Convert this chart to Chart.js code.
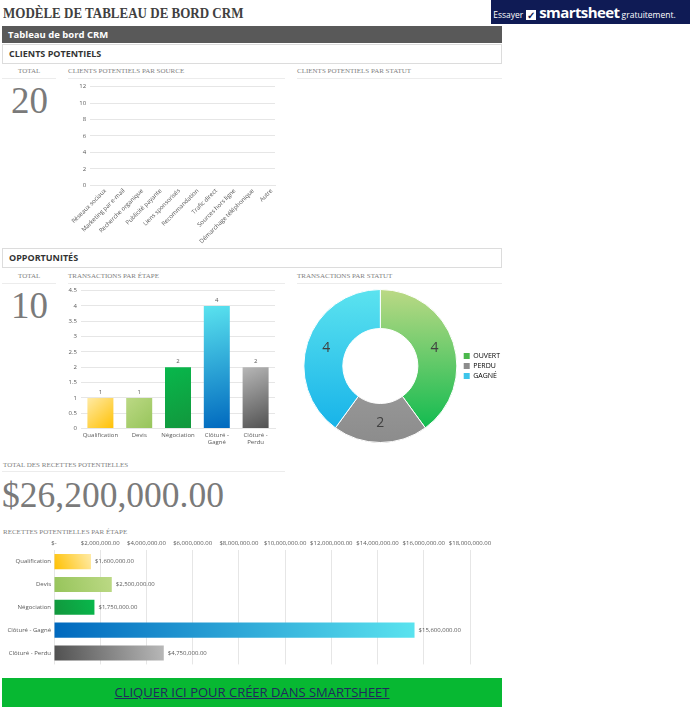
<!DOCTYPE html>
<html>
<head>
<meta charset="utf-8">
<script src="https://cdn.jsdelivr.net/npm/chart.js@4.4.0/dist/chart.umd.min.js"></script>
<style>
body { margin: 0; width: 693px; height: 709px; background: #fff; position: relative; overflow: hidden; font-family: "Open Sans", sans-serif; }
.abs { position: absolute; }
.title { left: 3px; top: 4px; font: bold 13px "Liberation Serif", serif; color: #404040; white-space: nowrap; transform: scaleY(1.15); transform-origin: left top; }
.banner { left: 491px; top: 0px; width: 199px; height: 24px; background: #0f1b55; color: #fff; white-space: nowrap; line-height: 24px; font-size: 8.5px; overflow: hidden; }
.banner b { font-size: 15px; font-weight: 700; letter-spacing: -0.6px; }
.chk { display: inline-block; width: 10px; height: 10px; background: #fff; color: #0f1b55; font-size: 10px; line-height: 10px; text-align: center; font-weight: bold; vertical-align: -1px; margin: 0 3px 0 3px; }
.darkbar { left: 2px; top: 26px; width: 500px; height: 17px; background: #595959; color: #fff; font-weight: 700; font-size: 9.5px; line-height: 17px; text-indent: 6px; }
.section { left: 2px; width: 498px; height: 18px; border: 1px solid #dcdcdc; color: #333; font-weight: 700; font-size: 9px; line-height: 18px; text-indent: 6px; }
.lbl { font: 7px "Liberation Serif", serif; color: #7f7f7f; white-space: nowrap; }
.rule { height: 1px; background: #ececec; }
.big { font-family: "Liberation Serif", serif; color: #7a7a7a; white-space: nowrap; }
.btn { left: 2px; top: 678px; width: 500px; height: 29px; background: #07b832; text-align: center; line-height: 29px; font-size: 13px; color: #1f2a5c; text-decoration: underline; }
canvas { position: absolute; }
</style>
</head>
<body>
<div class="abs title">MODÈLE DE TABLEAU DE BORD CRM</div>
<div class="abs banner">&nbsp;Essayer<span class="chk">✓</span><b>smartsheet</b> gratuitement.</div>
<div class="abs darkbar">Tableau de bord CRM</div>

<div class="abs section" style="top:44px">CLIENTS POTENTIELS</div>
<div class="abs lbl" style="left:18px;top:67px">TOTAL</div>
<div class="abs rule" style="left:2px;top:78px;width:54px"></div>
<div class="abs lbl" style="left:68px;top:67px">CLIENTS POTENTIELS PAR SOURCE</div>
<div class="abs rule" style="left:68px;top:78px;width:217px"></div>
<div class="abs lbl" style="left:297px;top:67px">CLIENTS POTENTIELS PAR STATUT</div>
<div class="abs rule" style="left:297px;top:78px;width:205px"></div>
<div class="abs big" id="leadsTotal" style="left:11px;top:79px;font-size:37px"></div>
<canvas id="sourceChart" style="left:64px;top:79px" width="216" height="168"></canvas>
<div class="abs rule" style="left:2px;top:248px;width:283px"></div>

<div class="abs section" style="top:248px">OPPORTUNITÉS</div>
<div class="abs lbl" style="left:18px;top:272px">TOTAL</div>
<div class="abs rule" style="left:2px;top:283px;width:54px"></div>
<div class="abs lbl" style="left:68px;top:272px">TRANSACTIONS PAR ÉTAPE</div>
<div class="abs rule" style="left:68px;top:283px;width:217px"></div>
<div class="abs lbl" style="left:297px;top:272px">TRANSACTIONS PAR STATUT</div>
<div class="abs rule" style="left:297px;top:283px;width:205px"></div>
<div class="abs big" id="dealsTotal" style="left:11px;top:284px;font-size:37px"></div>
<canvas id="stageChart" style="left:64px;top:283px" width="216" height="166"></canvas>
<canvas id="statusChart" style="left:300px;top:289px" width="210" height="154"></canvas>

<div class="abs lbl" style="left:3px;top:461px">TOTAL DES RECETTES POTENTIELLES</div>
<div class="abs rule" style="left:2px;top:471px;width:283px"></div>
<div class="abs big" id="revenueTotal" style="left:2px;top:474px;font-size:35.5px"></div>

<div class="abs lbl" style="left:3px;top:528px">RECETTES POTENTIELLES PAR ÉTAPE</div>
<canvas id="revenueChart" style="left:0px;top:537px" width="500" height="134"></canvas>

<div class="abs btn">CLIQUER ICI POUR CRÉER DANS SMARTSHEET</div>

<script>
// clients potentiels par source
const sourceLabels = ['Réseaux sociaux', 'Marketing par e-mail', 'Recherche organique', 'Publicité payante', 'Liens sponsorisés', 'Recommandation', 'Trafic direct', 'Sources hors ligne', 'Démarchage téléphonique', 'Autre'];
const sourceValues = [0, 0, 0, 0, 0, 0, 0, 0, 0, 0];
const sourceAxis = { max: 12, step: 2 };
const leadsTotal = 20;

// opportunités
const stageLabels = ['Qualification', 'Devis', 'Négociation', 'Clôturé - Gagné', 'Clôturé - Perdu'];
const stageCounts = [1, 1, 2, 4, 2];
const stageAxis = { max: 4.5, step: 0.5 };
const statusLabels = ['OUVERT', 'PERDU', 'GAGNÉ'];
const statusCounts = [4, 2, 4];

// recettes
const stageRevenue = [1600000, 2500000, 1750000, 15600000, 4750000];
const revenueAxis = { max: 18000000, step: 2000000 };

// couleurs des dégradés (clair -> foncé)
const stageColors = [
    ['#ffeba8', '#ffc000'],
    ['#bcd985', '#96c45a'],
    ['#08b84c', '#12963c'],
    ['#5ae3ef', '#0068be'],
    ['#b8b8b8', '#505050']
];
const statusColors = [
    ['#bcd985', '#00b84a'],
    ['#adadad', '#8c8c8c'],
    ['#5ce3ef', '#10aee8']
];
const statusLegendColors = ['#4bb84c', '#8c8c8c', '#3ec5ea'];

const money = v => '$' + v.toLocaleString('en-US', { minimumFractionDigits: 2, maximumFractionDigits: 2 });

document.getElementById('leadsTotal').textContent = leadsTotal;
document.getElementById('dealsTotal').textContent = stageCounts.reduce((a, b) => a + b, 0);
document.getElementById('revenueTotal').textContent = money(stageRevenue.reduce((a, b) => a + b, 0));

Chart.defaults.font.family = '"Open Sans", sans-serif';
Chart.defaults.color = '#595959';
Chart.defaults.animation = false;

// dessine les valeurs sur les barres / secteurs
const valueLabels = {
    id: 'valueLabels',
    afterDatasetsDraw(chart, args, opts) {
        if (!opts.mode) return;
        const ctx = chart.ctx;
        const data = chart.data.datasets[0].data;
        ctx.save();
        ctx.fillStyle = opts.color || '#595959';
        ctx.font = (opts.size || 6) + 'px "Open Sans"';
        chart.getDatasetMeta(0).data.forEach((el, i) => {
            const txt = opts.money ? money(data[i]) : String(data[i]);
            if (opts.mode === 'top') {
                ctx.textAlign = 'center'; ctx.textBaseline = 'bottom';
                ctx.fillText(txt, el.x, el.y - 3);
            } else if (opts.mode === 'right') {
                ctx.textAlign = 'left'; ctx.textBaseline = 'middle';
                ctx.fillText(txt, el.x + 4, el.y);
            } else {
                const p = el.tooltipPosition();
                ctx.textAlign = 'center'; ctx.textBaseline = 'middle';
                ctx.fillText(txt, p.x, p.y);
            }
        });
        ctx.restore();
    }
};

function vBarFill(c) {
    const chart = c.chart;
    const cols = stageColors[c.dataIndex % stageColors.length];
    if (!chart.chartArea || c.type !== 'data') return cols[1];
    const x = chart.scales.x.getPixelForValue(c.dataIndex);
    const top = chart.scales.y.getPixelForValue(c.raw);
    const bottom = chart.scales.y.getPixelForValue(0);
    const g = chart.ctx.createLinearGradient(x - 14, top, x + 14, bottom);
    g.addColorStop(0, cols[0]);
    g.addColorStop(1, cols[1]);
    return g;
}

function hBarFill(c) {
    const chart = c.chart;
    const cols = stageColors[c.dataIndex % stageColors.length];
    if (!chart.chartArea || c.type !== 'data') return cols[1];
    const y = chart.scales.y.getPixelForValue(c.dataIndex);
    const left = chart.scales.x.getPixelForValue(0);
    const right = chart.scales.x.getPixelForValue(c.raw);
    const g = chart.ctx.createLinearGradient(left, y + 8, right, y - 8);
    g.addColorStop(0, cols[1]);
    g.addColorStop(1, cols[0]);
    return g;
}

function ringFill(c) {
    const chart = c.chart;
    const cols = statusColors[c.dataIndex % statusColors.length];
    const a = chart.chartArea;
    if (!a) return cols[1];
    const g = chart.ctx.createLinearGradient(0, a.top, 0, a.bottom);
    g.addColorStop(0, cols[0]);
    g.addColorStop(1, cols[1]);
    return g;
}

const gridColor = '#e6e6e6';
const tickFont = { size: 6 };

// clients potentiels par source (vide)
new Chart(document.getElementById('sourceChart'), {
    type: 'bar',
    data: { labels: sourceLabels, datasets: [{ data: sourceValues, backgroundColor: '#5b9bd5', borderWidth: 0 }] },
    options: {
        responsive: false,
        layout: { padding: { right: 5 } },
        plugins: { legend: { display: false }, tooltip: { enabled: false } },
        scales: {
            x: { grid: { display: false, drawTicks: false }, border: { color: gridColor },
                 ticks: { font: tickFont, minRotation: 45, maxRotation: 45, autoSkip: false, padding: 2, labelOffset: 6 } },
            y: { min: 0, max: sourceAxis.max, grid: { color: gridColor, drawTicks: false }, border: { display: false },
                 ticks: { font: tickFont, stepSize: sourceAxis.step, padding: 4 },
                 afterFit: s => { s.width = 16; } }
        }
    }
});

// transactions par étape
new Chart(document.getElementById('stageChart'), {
    type: 'bar',
    data: { labels: stageLabels, datasets: [{ data: stageCounts, backgroundColor: vBarFill, borderWidth: 0, barPercentage: 0.67, categoryPercentage: 1 }] },
    options: {
        responsive: false,
        layout: { padding: { right: 5, top: 2 } },
        plugins: { legend: { display: false }, tooltip: { enabled: false }, valueLabels: { mode: 'top', size: 6 } },
        scales: {
            x: { grid: { display: false, drawTicks: false }, border: { color: gridColor },
                 ticks: { font: tickFont, maxRotation: 0, autoSkip: false, padding: 3,
                          callback: function (v) { const l = this.getLabelForValue(v); return l.includes(' - ') ? l.replace(' - ', ' -|').split('|') : l; } } },
            y: { min: 0, max: stageAxis.max, grid: { color: gridColor, drawTicks: false }, border: { display: false },
                 ticks: { font: tickFont, stepSize: stageAxis.step, padding: 4, callback: v => String(v) },
                 afterFit: s => { s.width = 17; } }
        }
    },
    plugins: [valueLabels]
});

// transactions par statut
new Chart(document.getElementById('statusChart'), {
    type: 'doughnut',
    data: { labels: statusLabels, datasets: [{ data: statusCounts, backgroundColor: ringFill, borderColor: '#fff', borderWidth: 1 }] },
    options: {
        responsive: false,
        cutout: '49%',
        plugins: {
            tooltip: { enabled: false },
            valueLabels: { mode: 'center', size: 14, color: '#404040' },
            legend: {
                position: 'right',
                labels: {
                    font: { size: 7 }, boxWidth: 6, boxHeight: 6, padding: 3, color: '#595959',
                    generateLabels: chart => chart.data.labels.map((l, i) => ({
                        text: l, fillStyle: statusLegendColors[i], strokeStyle: statusLegendColors[i], lineWidth: 0, index: i
                    }))
                }
            }
        }
    },
    plugins: [valueLabels]
});

// recettes potentielles par étape
new Chart(document.getElementById('revenueChart'), {
    type: 'bar',
    data: { labels: stageLabels, datasets: [{ data: stageRevenue, backgroundColor: hBarFill, borderWidth: 0, barPercentage: 0.66, categoryPercentage: 1 }] },
    options: {
        responsive: false,
        indexAxis: 'y',
        layout: { padding: { right: 30 } },
        plugins: { legend: { display: false }, tooltip: { enabled: false }, valueLabels: { mode: 'right', size: 6, money: true } },
        scales: {
            x: { position: 'top', min: 0, max: revenueAxis.max, grid: { color: gridColor, drawTicks: false }, border: { display: false },
                 ticks: { font: tickFont, stepSize: revenueAxis.step, padding: 3, maxRotation: 0, autoSkip: false,
                          callback: v => v === 0 ? '$-' : money(v) } },
            y: { grid: { display: false, drawTicks: false }, border: { display: false },
                 ticks: { font: tickFont, padding: 3 },
                 afterFit: s => { s.width = 54; } }
        }
    },
    plugins: [valueLabels]
});
</script>
</body>
</html>
